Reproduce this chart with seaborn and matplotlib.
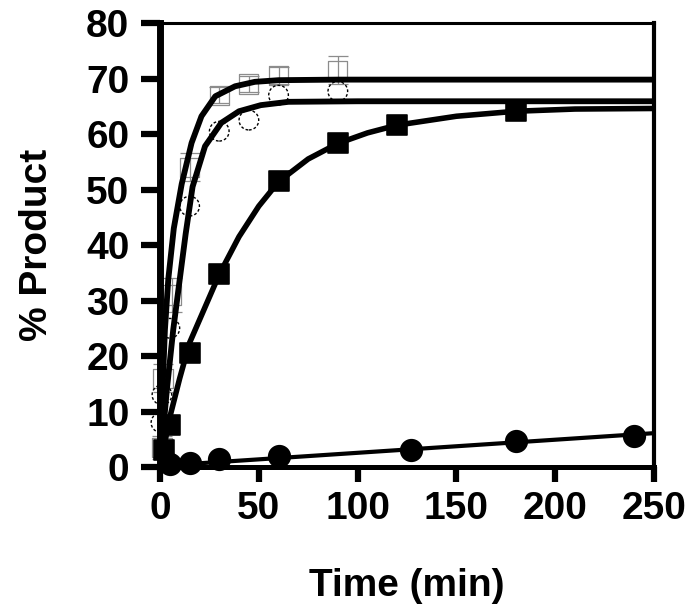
import numpy as np
import pandas as pd
import matplotlib
matplotlib.use("Agg")
import matplotlib.pyplot as plt
import seaborn as sns

sns.set_style("white")
plt.rcParams['font.family'] = ['Liberation Sans', 'DejaVu Sans']
plt.rcParams['font.weight'] = 'bold'
plt.rcParams['text.color'] = 'black'
plt.rcParams['axes.labelcolor'] = 'black'
plt.rcParams['xtick.color'] = 'black'
plt.rcParams['ytick.color'] = 'black'

# open squares (gray, with error bars)
sq_open_t = [1, 1.5, 6, 15, 30, 45, 60, 90]
sq_open_y = [3.5, 16, 31, 54, 67, 69, 70.5, 71.5]
sq_open_err = [2, 2.5, 3, 2.5, 1.5, 1.5, 1.5, 2.5]

# open dashed circles
circ_open_t = [0.5, 1, 5, 15, 30, 45, 60, 90]
circ_open_y = [8, 13, 25, 47, 60.5, 62.5, 67, 67.7]

# filled squares
sq_fill_t = [2, 5, 15, 30, 60, 90, 120, 180]
sq_fill_y = [3, 7.6, 20.6, 34.7, 51.5, 58.4, 61.6, 64.2]

# filled circles
circ_fill_t = [5, 15, 30, 60, 127, 180, 240]
circ_fill_y = [0.6, 0.7, 1.4, 2.0, 3.1, 4.6, 5.6]

# fitted curves
fit_sq_open_t = [0, 1, 2.5, 4.2, 7, 11, 16, 21, 28, 38, 48, 60, 90, 150, 250]
fit_sq_open_y = [0, 11, 24.7, 33.8, 43, 51, 58.4, 63.2, 66.8, 68.6, 69.4, 69.7, 69.8, 69.8, 69.8]

fit_circ_open_t = [0, 1.5, 3.5, 6.7, 10, 13, 16.5, 22.8, 31, 40, 51, 65, 100, 250]
fit_circ_open_y = [0, 6, 14, 24.7, 33.8, 42, 50.5, 57.8, 62, 64.1, 65.2, 65.8, 65.9, 65.9]

fit_sq_fill_t = [0, 5, 10, 15, 20, 30, 40, 50, 60, 75, 90, 105, 120, 150, 180, 210, 250]
fit_sq_fill_y = [0, 9, 16, 22.4, 26.5, 34.7, 41.5, 47, 51.4, 55.5, 58.3, 60.2, 61.6, 63.2, 64.1, 64.5, 64.6]

fit_circ_fill_t = [0, 250]
fit_circ_fill_y = [0.2, 6.1]

fig = plt.figure(figsize=(6.91, 6.12), dpi=100)
ax = fig.add_axes([0.2315, 0.2369, 0.9465 - 0.2315, 0.9624 - 0.2369])

# error bars and open squares
ax.errorbar(sq_open_t, sq_open_y, yerr=sq_open_err, fmt='none', ecolor='#8c8c8c',
            elinewidth=0.9, capsize=7, capthick=0.9, clip_on=False, zorder=2)
sns.scatterplot(x=sq_open_t, y=sq_open_y, ax=ax, marker='s', s=190, facecolor='none',
                edgecolor='#8c8c8c', linewidth=0.9, clip_on=False, zorder=2)
sns.scatterplot(x=circ_open_t, y=circ_open_y, ax=ax, marker='o', s=200, facecolor='none',
                edgecolor='black', linewidth=1.0, linestyle=(0, (2, 1.5)), clip_on=False, zorder=2)

# fitted lines
sns.lineplot(x=fit_sq_open_t, y=fit_sq_open_y, ax=ax, color='black', linewidth=4.2, zorder=3)
sns.lineplot(x=fit_circ_open_t, y=fit_circ_open_y, ax=ax, color='black', linewidth=4.2, zorder=3)
sns.lineplot(x=fit_sq_fill_t, y=fit_sq_fill_y, ax=ax, color='black', linewidth=4.0, zorder=3)
sns.lineplot(x=fit_circ_fill_t, y=fit_circ_fill_y, ax=ax, color='black', linewidth=3.0, zorder=3)

# filled markers
sns.scatterplot(x=sq_fill_t, y=sq_fill_y, ax=ax, marker='s', s=210, color='black',
                edgecolor='black', clip_on=False, zorder=4)
sns.scatterplot(x=circ_fill_t, y=circ_fill_y, ax=ax, marker='o', s=240, color='black',
                edgecolor='black', clip_on=False, zorder=4)

ax.set_xlim(0, 250)
ax.set_ylim(0, 80)
ax.set_xticks([0, 50, 100, 150, 200, 250])
ax.set_yticks(range(0, 81, 10))

ax.spines['left'].set_linewidth(5)
ax.spines['bottom'].set_linewidth(3.6)
ax.spines['top'].set_linewidth(2.2)
ax.spines['right'].set_linewidth(3)
for s in ax.spines.values():
    s.set_color('black')
    s.set_zorder(5)

ax.tick_params(axis='y', direction='out', length=14, width=4.5, labelsize=28, pad=8, left=True)
ax.tick_params(axis='x', direction='out', length=11, width=4.5, labelsize=28, pad=6, bottom=True)
for lbl in ax.get_xticklabels() + ax.get_yticklabels():
    lbl.set_fontweight('bold')

ax.set_xlabel('Time (min)', fontsize=28, fontweight='bold', labelpad=30)
ax.set_ylabel('% Product', fontsize=28, fontweight='bold', labelpad=22)

fig.savefig('out.png', dpi=100)
